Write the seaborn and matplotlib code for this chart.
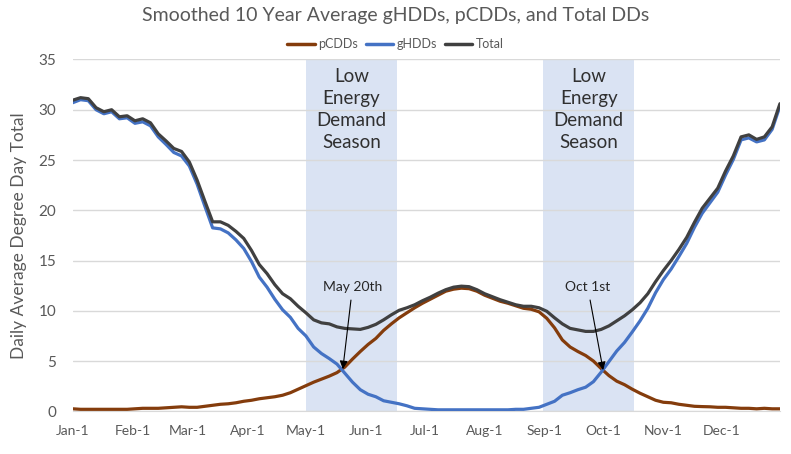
import pandas as pd
import numpy as np
import matplotlib
matplotlib.use("Agg")
import matplotlib.pyplot as plt
import matplotlib.dates as mdates
import seaborn as sns

# Day of year (0 = Jan 1) at which values were read
days = list(range(0, 365, 4))

pcdd = [0.25, 0.2, 0.2, 0.2, 0.2, 0.2, 0.2, 0.2, 0.25, 0.3,
        0.3, 0.3, 0.35, 0.4, 0.45, 0.4, 0.4, 0.5, 0.6, 0.7,
        0.75, 0.85, 1.0, 1.1, 1.25, 1.35, 1.45, 1.6, 1.85, 2.2,
        2.55, 2.9, 3.2, 3.5, 3.85, 4.4, 5.2, 5.95, 6.65, 7.25,
        8.05, 8.7, 9.3, 9.8, 10.3, 10.75, 11.15, 11.55, 11.95, 12.15,
        12.25, 12.2, 11.95, 11.55, 11.25, 10.95, 10.75, 10.5, 10.25, 10.15,
        9.9, 9.25, 8.3, 7.1, 6.4, 5.95, 5.55, 5.0, 4.25, 3.55,
        3.0, 2.65, 2.2, 1.8, 1.45, 1.1, 0.9, 0.85, 0.7, 0.6,
        0.5, 0.47, 0.45, 0.4, 0.4, 0.35, 0.3, 0.3, 0.25, 0.3,
        0.25, 0.25]

ghdd = [30.7, 31.0, 30.9, 30.0, 29.6, 29.8, 29.1, 29.2, 28.65, 28.8,
        28.4, 27.3, 26.55, 25.75, 25.4, 24.4, 22.6, 20.4, 18.25, 18.15,
        17.75, 17.05, 16.2, 14.9, 13.35, 12.35, 11.15, 10.1, 9.35, 8.25,
        7.5, 6.4, 5.75, 5.25, 4.7, 3.8, 2.9, 2.15, 1.7, 1.45,
        1.05, 0.9, 0.75, 0.55, 0.3, 0.25, 0.2, 0.15, 0.15, 0.15,
        0.15, 0.15, 0.15, 0.15, 0.15, 0.15, 0.15, 0.2, 0.2, 0.3,
        0.4, 0.7, 1.0, 1.6, 1.85, 2.15, 2.4, 2.95, 3.9, 4.95,
        6.0, 6.85, 7.9, 9.0, 10.25, 11.8, 13.1, 14.15, 15.4, 16.7,
        18.3, 19.7, 20.75, 21.8, 23.5, 25.05, 27.0, 27.2, 26.8, 27.0,
        28.05, 30.35]

total = [30.95, 31.2, 31.1, 30.2, 29.8, 30.0, 29.3, 29.4, 28.9, 29.1,
         28.7, 27.6, 26.9, 26.15, 25.85, 24.8, 23.0, 20.9, 18.85, 18.85,
         18.5, 17.9, 17.2, 16.0, 14.6, 13.7, 12.6, 11.7, 11.2, 10.45,
         9.8, 9.1, 8.8, 8.7, 8.4, 8.25, 8.2, 8.15, 8.35, 8.65,
         9.1, 9.6, 10.05, 10.3, 10.6, 11.0, 11.35, 11.75, 12.1, 12.35,
         12.45, 12.4, 12.1, 11.7, 11.4, 11.1, 10.85, 10.6, 10.45, 10.45,
         10.3, 9.95, 9.3, 8.7, 8.25, 8.1, 7.95, 7.95, 8.15, 8.5,
         9.0, 9.5, 10.1, 10.8, 11.7, 12.9, 14.0, 15.0, 16.1, 17.3,
         18.8, 20.2, 21.2, 22.2, 23.9, 25.4, 27.3, 27.5, 27.05, 27.3,
         28.3, 30.6]

series_names = ["pCDDs", "gHDDs", "Total"]
colors = {"pCDDs": "#843C0C", "gHDDs": "#4472C4", "Total": "#404040"}

# low energy demand seasons (start, end) as dates
seasons = [("2019-05-01", "2019-06-17"), ("2019-08-31", "2019-10-17")]
notes = [("May 20th", "2019-05-20", 4.2, "2019-05-25"),
         ("Oct 1st", "2019-10-01", 4.1, "2019-09-23")]

month_ticks = ["Jan", "Feb", "Mar", "Apr", "May", "Jun",
               "Jul", "Aug", "Sep", "Oct", "Nov", "Dec"]

start = pd.Timestamp("2019-01-01")
dates = [start + pd.Timedelta(days=d) for d in days]
df = pd.DataFrame({
    "Date": dates * 3,
    "Value": pcdd + ghdd + total,
    "Series": ["pCDDs"] * len(days) + ["gHDDs"] * len(days) + ["Total"] * len(days),
})

sns.set_style("white")
plt.rcParams["font.family"] = ["Lato", "DejaVu Sans"]
gray = "#595959"

fig = plt.figure(figsize=(7.91, 4.54), dpi=100)
ax = fig.add_axes([0.092, 0.094, 0.894, 0.775])

for s0, s1 in seasons:
    ax.axvspan(pd.Timestamp(s0), pd.Timestamp(s1), color="#DAE3F3", lw=0, zorder=0)

sns.lineplot(data=df, x="Date", y="Value", hue="Series", hue_order=series_names,
             palette=colors, linewidth=2.3, ax=ax, legend=False, zorder=3)

ax.set_ylim(0, 35)
ax.set_yticks(range(0, 36, 5))
ax.set_xlim(start, start + pd.Timedelta(days=364))
ax.set_xticks([pd.Timestamp(f"2019-{m:02d}-01") for m in range(1, 13)])
ax.set_xticklabels([f"{m}-1" for m in month_ticks])
ax.grid(axis="y", color="#D9D9D9", lw=1, zorder=1)
ax.set_axisbelow(True)
for sp in ["top", "right", "left"]:
    ax.spines[sp].set_visible(False)
ax.spines["bottom"].set_color("#D9D9D9")
ax.spines["bottom"].set_zorder(1)
ax.tick_params(axis="x", colors=gray, labelsize=10, length=4, width=1,
               color="#D9D9D9", pad=6)
ax.tick_params(axis="y", colors=gray, labelsize=11, length=0, pad=12)
ax.set_xlabel("")
ax.set_ylabel("Daily Average Degree Day Total", color=gray, fontsize=12.5, labelpad=8)

for s0, s1 in seasons:
    mid = pd.Timestamp(s0) + (pd.Timestamp(s1) - pd.Timestamp(s0)) / 2
    ax.text(mid, 34.2, "Low\nEnergy\nDemand\nSeason", ha="center", va="top",
            fontsize=13.5, color="#303030", linespacing=1.38, zorder=4)

for label, tip, yv, txt in notes:
    ax.annotate(label, xy=(pd.Timestamp(tip), yv), xytext=(pd.Timestamp(txt), 12.4),
                ha="center", va="center", fontsize=10, color="#262626", zorder=5,
                arrowprops=dict(arrowstyle="-|>", color="black", lw=0.8,
                                shrinkA=3, shrinkB=0, mutation_scale=12))

handles = [plt.Line2D([], [], color=colors[n], lw=2.5) for n in series_names]
fig.legend(handles, series_names, loc="center", bbox_to_anchor=(0.5, 0.903),
           ncol=3, frameon=False, fontsize=9, handlelength=2.2, handletextpad=0.3,
           columnspacing=0.6, labelcolor=gray)

fig.suptitle("Smoothed 10 Year Average gHDDs, pCDDs, and Total DDs",
             x=0.5, y=0.985, fontsize=14, color=gray)

fig.savefig("out.png", dpi=100)
